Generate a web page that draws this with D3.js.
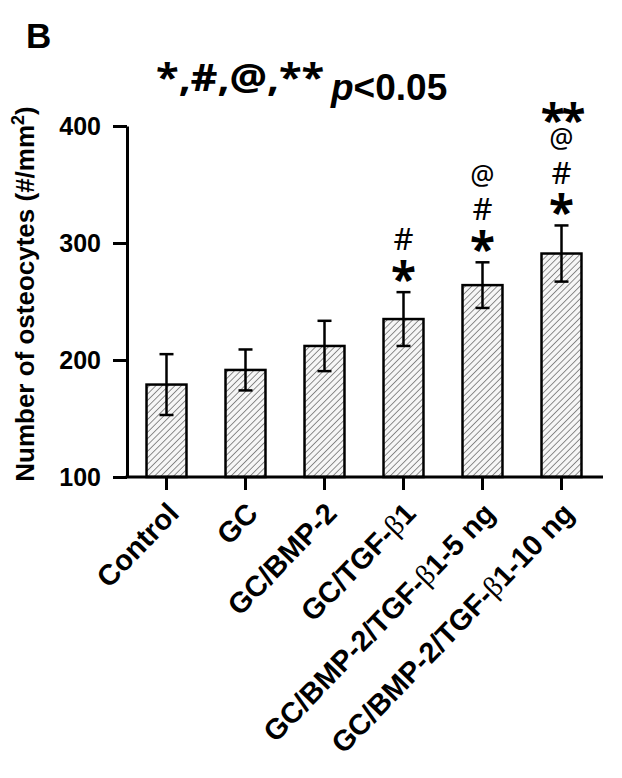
<!DOCTYPE html>
<html><head><meta charset="utf-8"><script src="https://cdn.jsdelivr.net/npm/d3@7"></script>
<style>body{margin:0;background:#fff}</style></head>
<body>
<svg id="chart" width="622" height="778"></svg>
<script>
// ---- data ----
const categories = ["Control", "GC", "GC/BMP-2", "GC/TGF-β1", "GC/BMP-2/TGF-β1-5 ng", "GC/BMP-2/TGF-β1-10 ng"];
const means = [179, 191.5, 212, 235, 264, 291];
const errors = [26, 17.5, 21.5, 23, 19.5, 24];
const significance = [[], [], [], ["*", "#"], ["*", "#", "@"], ["*", "#", "@", "**"]];
const yTicks = [100, 200, 300, 400];
const yDomain = [100, 400];

const svg = d3.select("#chart");
const x = d3.scaleBand().domain(categories).range([127, 601]).paddingInner(0.494).paddingOuter(0.247);
const y = d3.scaleLinear().domain(yDomain).range([477, 126]);

// hatch pattern
const defs = svg.append("defs");
const pat = defs.append("pattern").attr("id", "hatch").attr("patternUnits", "userSpaceOnUse")
  .attr("width", 4.5).attr("height", 4.5).attr("patternTransform", "rotate(45)");
pat.append("rect").attr("width", 4.5).attr("height", 4.5).attr("fill", "#f6f6f6");
pat.append("line").attr("x1", 0).attr("y1", 0).attr("x2", 0).attr("y2", 4.5)
  .attr("stroke", "#555").attr("stroke-width", 1.3);

const FONT = "'Liberation Sans', Arial, sans-serif";

// bars
svg.append("g").selectAll("rect").data(categories).join("rect")
  .attr("x", d => x(d)).attr("width", x.bandwidth())
  .attr("y", (d, i) => y(means[i])).attr("height", (d, i) => y(yDomain[0]) - y(means[i]))
  .attr("fill", "url(#hatch)").attr("stroke", "#000").attr("stroke-width", 2.5);

// error bars
const eb = svg.append("g").attr("stroke", "#000").attr("stroke-width", 2.5);
categories.forEach((c, i) => {
  const cx = x(c) + x.bandwidth() / 2;
  eb.append("line").attr("x1", cx).attr("x2", cx).attr("y1", y(means[i] + errors[i])).attr("y2", y(means[i] - errors[i]));
  eb.append("line").attr("x1", cx - 7).attr("x2", cx + 7).attr("y1", y(means[i] + errors[i])).attr("y2", y(means[i] + errors[i]));
  eb.append("line").attr("x1", cx - 7).attr("x2", cx + 7).attr("y1", y(means[i] - errors[i])).attr("y2", y(means[i] - errors[i]));
});

// y axis
const yAxis = svg.append("g").attr("transform", "translate(127,0)")
  .call(d3.axisLeft(y).tickValues(yTicks).tickSize(14).tickSizeOuter(0).tickPadding(12));
yAxis.selectAll("path,line").attr("stroke", "#000").attr("stroke-width", 3);
yAxis.selectAll("text").style("font-family", FONT).style("font-weight", "bold").style("font-size", "25px").attr("fill", "#000");

// x axis
const xAxis = svg.append("g").attr("transform", "translate(0,477)")
  .call(d3.axisBottom(x).tickSize(13).tickSizeOuter(0).tickFormat(""));
xAxis.select("path").attr("d", "M125.5,0H603").attr("stroke", "#000").attr("stroke-width", 3);
xAxis.selectAll("line").attr("stroke", "#000").attr("stroke-width", 3);

// x labels
const xl = svg.append("g");
categories.forEach(c => {
  const cx = x(c) + x.bandwidth() / 2;
  const t = xl.append("text").attr("transform", `translate(${cx + 14},${515}) rotate(-46)`)
    .attr("text-anchor", "end").style("font-family", FONT).style("font-weight", "bold").style("font-size", "29px");
  const parts = c.split("β");
  t.append("tspan").text(parts[0]);
  if (parts.length > 1) {
    t.append("tspan").style("font-family", "'Liberation Serif', serif").style("font-weight", "normal").text("β");
    t.append("tspan").text(parts[1]);
  }
});

// y label
const yl = svg.append("text").attr("transform", "translate(34,294) rotate(-90)").attr("text-anchor", "middle")
  .style("font-family", FONT).style("font-weight", "bold").style("font-size", "26px");
yl.append("tspan").text("Number of osteocytes (#/mm");
yl.append("tspan").attr("dy", -10).style("font-size", "18px").text("2");
yl.append("tspan").attr("dy", 10).text(")");

// significance markers
const markStyle = {
  "*": {size: 46, weight: "bold", off: 21, base: 0.53},
  "#": {size: 31, weight: "normal", off: 53, base: 0.357},
  "@": {size: 27, weight: "normal", off: 86, base: 0.31},
  "**": {size: 44, weight: "bold", off: 113, base: 0.53}
};
const sg = svg.append("g");
categories.forEach((c, i) => {
  const cx = x(c) + x.bandwidth() / 2;
  const top = y(means[i] + errors[i]);
  significance[i].forEach(m => {
    const s = markStyle[m];
    sg.append("text").attr("x", cx).attr("y", top - s.off + s.size * s.base)
      .attr("text-anchor", "middle").style("font-family", "'Noto Sans', sans-serif")
      .style("font-weight", s.weight).style("font-size", s.size + "px")
      .style("letter-spacing", m === "**" ? "-3px" : "0px").text(m);
  });
});

// panel letter and title
svg.append("text").attr("x", 26).attr("y", 48).style("font-family", FONT).style("font-weight", "bold").style("font-size", "35px").text("B");
svg.append("text").attr("transform", "translate(156,91) scale(1.1,1)").style("font-family", "'Noto Sans', sans-serif")
  .style("font-weight", "bold").style("font-size", "38px").text("*,#,@,**");
const pt = svg.append("text").attr("x", 331).attr("y", 100).style("font-family", FONT).style("font-weight", "bold").style("font-size", "37px");
pt.append("tspan").style("font-style", "italic").text("p");
pt.append("tspan").text("<0.05");
</script></body></html>
